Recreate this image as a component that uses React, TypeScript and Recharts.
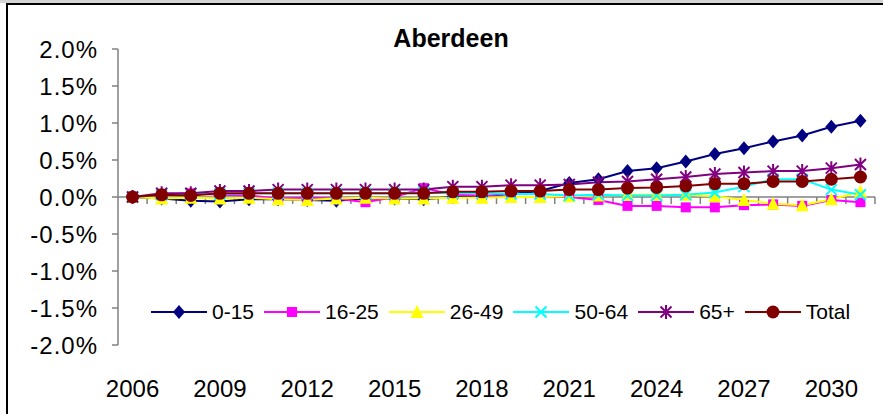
import { Line, LineChart, ReferenceLine, XAxis, YAxis } from "recharts";

const years = [
  "2006", "2007", "2008", "2009", "2010", "2011", "2012", "2013", "2014", "2015", "2016", "2017", "2018",
  "2019", "2020", "2021", "2022", "2023", "2024", "2025", "2026", "2027", "2028", "2029", "2030", "2031"
];

// percent change
const age0to15 = [0, -0.02, -0.05, -0.06, -0.03, -0.03, -0.04, -0.05, -0.02, -0.02, -0.03, 0.0, 0.01, 0.04, 0.08, 0.19, 0.24, 0.35, 0.39, 0.48, 0.58, 0.66, 0.75, 0.83, 0.95, 1.03];
const age16to25 = [0, 0.03, 0.05, 0.03, 0.02, -0.02, -0.01, -0.02, -0.07, 0.0, 0.12, 0.03, 0.02, 0.0, 0.0, 0.0, -0.04, -0.12, -0.12, -0.14, -0.14, -0.11, -0.1, -0.12, -0.04, -0.07];
const age26to49 = [0, -0.02, -0.01, -0.02, -0.01, -0.03, -0.04, -0.02, -0.01, -0.02, -0.02, -0.01, -0.01, 0.0, 0.0, 0.01, 0.02, 0.03, 0.03, 0.03, 0.01, -0.04, -0.09, -0.11, -0.03, 0.07];
const age50to64 = [0, 0.03, 0.04, 0.04, 0.05, 0.05, 0.05, 0.05, 0.05, 0.05, 0.06, 0.05, 0.05, 0.04, 0.04, 0.02, 0.03, 0.02, 0.02, 0.03, 0.06, 0.14, 0.24, 0.24, 0.1, 0.03];
const age65plus = [0, 0.05, 0.05, 0.08, 0.08, 0.1, 0.1, 0.1, 0.1, 0.1, 0.1, 0.14, 0.14, 0.16, 0.16, 0.17, 0.2, 0.21, 0.24, 0.27, 0.31, 0.33, 0.35, 0.35, 0.39, 0.44];
const total = [0, 0.03, 0.02, 0.05, 0.05, 0.05, 0.05, 0.05, 0.05, 0.05, 0.05, 0.07, 0.07, 0.08, 0.08, 0.1, 0.1, 0.12, 0.13, 0.15, 0.18, 0.18, 0.21, 0.21, 0.24, 0.27];

const yTicks = [-2, -1.5, -1, -0.5, 0, 0.5, 1, 1.5, 2];

const data = years.map((year, i) => ({
  year,
  a: age0to15[i],
  b: age16to25[i],
  c: age26to49[i],
  d: age50to64[i],
  e: age65plus[i],
  t: total[i]
}));

const font = "'Liberation Sans', Arial, sans-serif";

type Shape = "diamond" | "square" | "triangle" | "x" | "star" | "circle";

const Marker = ({ shape, cx, cy, color }: { shape: Shape; cx: number; cy: number; color: string }) => {
  if (shape === "diamond")
    return <polygon points={`${cx},${cy - 7} ${cx + 6},${cy} ${cx},${cy + 7} ${cx - 6},${cy}`} fill={color} />;
  if (shape === "square") return <rect x={cx - 5} y={cy - 5} width={10} height={10} fill={color} />;
  if (shape === "triangle")
    return <polygon points={`${cx},${cy - 7} ${cx + 6.5},${cy + 6} ${cx - 6.5},${cy + 6}`} fill={color} />;
  if (shape === "x")
    return (
      <path d={`M${cx - 5.5},${cy - 5.5}L${cx + 5.5},${cy + 5.5}M${cx - 5.5},${cy + 5.5}L${cx + 5.5},${cy - 5.5}`} stroke={color} strokeWidth={2} />
    );
  if (shape === "star")
    return (
      <path
        d={`M${cx - 5.5},${cy - 5.5}L${cx + 5.5},${cy + 5.5}M${cx - 5.5},${cy + 5.5}L${cx + 5.5},${cy - 5.5}M${cx},${cy - 7}L${cx},${cy + 7}`}
        stroke={color}
        strokeWidth={2}
      />
    );
  return <circle cx={cx} cy={cy} r={6.5} fill={color} />;
};

const series: { key: string; name: string; color: string; shape: Shape }[] = [
  { key: "a", name: "0-15", color: "#000080", shape: "diamond" },
  { key: "b", name: "16-25", color: "#FF00FF", shape: "square" },
  { key: "c", name: "26-49", color: "#FFFF00", shape: "triangle" },
  { key: "d", name: "50-64", color: "#00FFFF", shape: "x" },
  { key: "e", name: "65+", color: "#800080", shape: "star" },
  { key: "t", name: "Total", color: "#800000", shape: "circle" }
];

const makeDot = (shape: Shape, color: string) => (props: any) => {
  const { cx, cy, index } = props;
  if (cx == null || cy == null) return <g key={index} />;
  return (
    <g key={index}>
      <Marker shape={shape} cx={cx} cy={cy} color={color} />
    </g>
  );
};

// the x axis line sits at 0, with small ticks between categories
const ZeroAxis = (props: any) => {
  const { x1, x2, y1 } = props;
  if (x1 == null) return <g />;
  const n = years.length;
  const step = (x2 - x1) / n;
  return (
    <g>
      <line x1={x1} x2={x2} y1={y1} y2={y1} stroke="#808080" strokeWidth={1.5} />
      {years.map((_, i) => (
        <line key={i} x1={x1 + step * (i + 1)} x2={x1 + step * (i + 1)} y1={y1} y2={y1 + 7} stroke="#808080" strokeWidth={1.5} />
      ))}
    </g>
  );
};

const LegendRow = () => (
  <div style={{ display: "flex", alignItems: "center", fontFamily: font, fontSize: 21, color: "#000" }}>
    {series.map((s) => (
      <div key={s.key} style={{ display: "flex", alignItems: "center", marginRight: 10 }}>
        <svg width={56} height={18}>
          <line x1={0} x2={56} y1={9} y2={9} stroke={s.color} strokeWidth={2} />
          <Marker shape={s.shape} cx={28} cy={9} color={s.color} />
        </svg>
        <span style={{ marginLeft: 5 }}>{s.name}</span>
      </div>
    ))}
  </div>
);

const App = () => {
  return (
    <div style={{ position: "absolute", left: 0, top: 0, width: 883, height: 414, background: "#fff", overflow: "hidden" }}>
      <div style={{ position: "absolute", left: 0, top: 0, width: 883, height: 3, background: "#d4d4d4" }} />
      <div
        style={{
          position: "absolute",
          left: 6,
          top: 3,
          width: 900,
          height: 430,
          borderLeft: "2px solid #000",
          borderTop: "2px solid #000"
        }}
      />
      <div
        style={{
          position: "absolute",
          left: 0,
          top: 24,
          width: 902,
          textAlign: "center",
          fontFamily: font,
          fontWeight: "bold",
          fontSize: 25,
          lineHeight: "28px"
        }}
      >
        Aberdeen
      </div>
      <div style={{ position: "absolute", left: 0, top: 0 }}>
        <LineChart width={883} height={414} data={data} margin={{ top: 49, right: 8, left: 8, bottom: 9 }}>
          <XAxis
            dataKey="year"
            scale="band"
            interval={2}
            axisLine={false}
            tickLine={false}
            tickSize={0}
            tickMargin={35}
            height={60}
            tick={{ fill: "#000", fontSize: 24, fontFamily: font }}
          />
          <YAxis
            type="number"
            domain={[-2, 2]}
            ticks={yTicks}
            tickFormatter={(v: number) => `${v.toFixed(1)}%`}
            width={110}
            axisLine={{ stroke: "#808080", strokeWidth: 1.5 }}
            tickLine={{ stroke: "#808080", strokeWidth: 1.5 }}
            tickSize={6}
            tickMargin={14}
            tick={{ fill: "#000", fontSize: 24, fontFamily: font, letterSpacing: 1 }}
          />
          <ReferenceLine y={0} shape={ZeroAxis} />
          {series.map((s) => (
            <Line
              key={s.key}
              dataKey={s.key}
              name={s.name}
              stroke={s.color}
              strokeWidth={2}
              dot={makeDot(s.shape, s.color)}
              activeDot={false}
              isAnimationActive={false}
            />
          ))}
        </LineChart>
      </div>
      <div style={{ position: "absolute", left: 151, top: 300 }}>
        <LegendRow />
      </div>
    </div>
  );
};

export default App;
